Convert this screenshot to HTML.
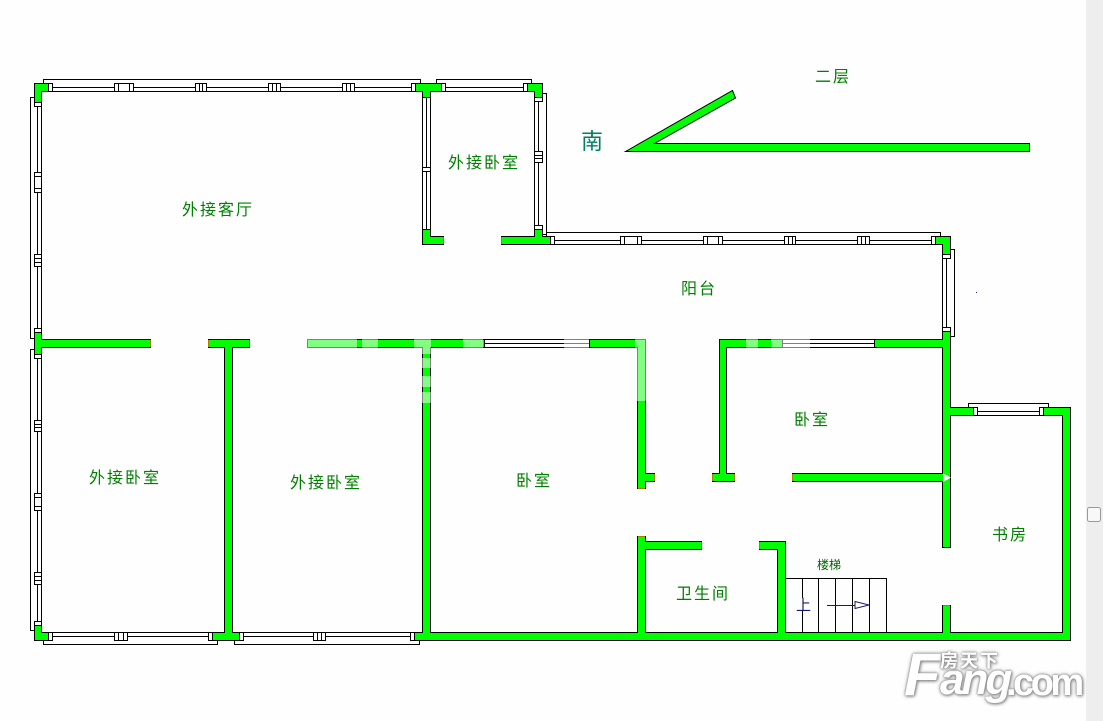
<!DOCTYPE html>
<html><head><meta charset="utf-8">
<style>
html,body{margin:0;padding:0;background:#fefefe;width:1103px;height:721px;overflow:hidden}
svg{position:absolute;left:0;top:0}
.w{fill:#00ff00;stroke:#000;stroke-width:1}
.l{fill:none;stroke:#000;stroke-width:1}
.f{fill:#fff;stroke:#000;stroke-width:1}
.t{font-family:"Liberation Sans","WenQuanYi Zen Hei","Noto Sans CJK SC",sans-serif;font-size:16px;letter-spacing:2px;fill:#008000}
.logo{position:absolute;font-family:"Liberation Sans","Noto Sans CJK SC",sans-serif;font-weight:bold;color:#fff;text-shadow:0 0 2px #888,1px 1px 3px #888,0 0 4px #aaa;white-space:nowrap}
</style></head><body>
<svg width="1103" height="721" viewBox="0 0 1103 721" xmlns="http://www.w3.org/2000/svg">
<g shape-rendering="crispEdges">
<path class="l" d="M48.5 87.5H415.5M48.5 91.5H415.5M43.5 83.5V79.5H420.5V83.5
M441.5 87.5H527.5M441.5 91.5H527.5M436.5 83.5V79.5H531.5V83.5
M550.5 240.5H935.5M550.5 244.5H935.5M546.5 236.5V232.5H940.5V236.5
M37.5 102V328M41.5 102V332M34.5 97.5H30.5V338.5H34.5
M37.5 358V621M41.5 354V625M34.5 349.5H30.5V630.5H34.5
M534.5 97V229M538.5 101V225M542.5 93.5H546.5V234.5H542.5
M422.5 97V229M426.5 97V229M430.5 97V229
M942.5 254V331M946.5 258V327M950.5 249.5H954.5V336.5H950.5
M52.5 632.5H208.5M52.5 636.5H208.5M43.5 640.5V644.5H217.5V640.5
M243.5 632.5H410.5M243.5 636.5H410.5M234.5 640.5V644.5H419.5V640.5
M484.5 339.5H589.5M484.5 343.5H589.5M484.5 347.5H589.5
M782.5 339.5H874.5M782.5 343.5H874.5M782.5 347.5H874.5
M977.5 411.5H1039.5M977.5 415.5H1039.5M968.5 407.5V403.5H1048.5V407.5"/>
<path class="f" d="M48.5 83.5h4v8h-4zM114.5 83.5h19v8h-19zM195.5 83.5h11v8h-11zM268.5 83.5h12v8h-12zM342.5 83.5h12v8h-12zM411.5 83.5h4v8h-4zM441.5 83.5h4v8h-4zM523.5 83.5h4v8h-4z"/>
<path class="l" d="M118.5 83.5v8M129.5 83.5v8M199.5 83.5v8M202.5 83.5v8M272.5 83.5v8M276.5 83.5v8M346.5 83.5v8M350.5 83.5v8"/>
<path class="f" d="M550.5 236.5h4v8h-4zM620.5 236.5h21v8h-21zM703.5 236.5h19v8h-19zM784.5 236.5h11v8h-11zM857.5 236.5h12v8h-12zM931.5 236.5h4v8h-4z"/>
<path class="l" d="M624.5 236.5v8M637.5 236.5v8M707.5 236.5v8M718.5 236.5v8M788.5 236.5v8M792.5 236.5v8M861.5 236.5v8M865.5 236.5v8"/>
<path class="f" d="M34.5 102.5h7v4h-7zM34.5 172.5h7v20h-7zM34.5 254.5h7v12h-7zM34.5 328.5h7v4h-7zM34.5 354.5h7v4h-7zM34.5 420.5h7v11h-7zM34.5 493.5h7v17h-7zM34.5 572.5h7v12h-7zM34.5 621.5h7v4h-7z"/>
<path class="l" d="M34.5 176.5h7M34.5 188.5h7M34.5 258.5h7M34.5 262.5h7M34.5 424.5h7M34.5 427.5h7M34.5 497.5h7M34.5 506.5h7M34.5 576.5h7M34.5 580.5h7"/>
<path class="f" d="M534.5 97.5h8v4h-8zM534.5 151.5h8v11h-8zM534.5 225.5h8v4h-8zM422.5 167.5h8v4h-8zM942.5 254.5h8v4h-8zM942.5 327.5h8v4h-8zM973.5 407.5h4v8h-4zM1039.5 407.5h4v8h-4z"/>
<path class="l" d="M534.5 155.5h8M534.5 158.5h8"/>
<path class="f" d="M48.5 632.5h4v8h-4zM114.5 632.5h13v8h-13zM208.5 632.5h4v8h-4zM239.5 632.5h4v8h-4zM313.5 632.5h12v8h-12zM410.5 632.5h4v8h-4z"/>
<path class="l" d="M118.5 632.5v8M123.5 632.5v8M317.5 632.5v8M321.5 632.5v8"/>
<path class="l" d="M785.5 578.5H886.5V632M802.5 578.5V598M802.5 611V632M818.5 578.5V632M835.5 578.5V632M852.5 578.5V632M869.5 578.5V632"/>
<polygon class="w" points="34.5,83.5 48.5,83.5 48.5,91.5 41.5,91.5 41.5,102.5 34.5,102.5"/>
<polygon class="w" points="415.5,83.5 441.5,83.5 441.5,91.5 430.5,91.5 430.5,97.5 422.5,97.5 422.5,91.5 415.5,91.5"/>
<polygon class="w" points="527.5,83.5 542.5,83.5 542.5,97.5 534.5,97.5 534.5,91.5 527.5,91.5"/>
<polygon class="w" points="422.5,229.5 430.5,229.5 430.5,236.5 443.5,236.5 443.5,244.5 422.5,244.5"/>
<polygon class="w" points="534.5,229.5 542.5,229.5 542.5,236.5 550.5,236.5 550.5,244.5 501.5,244.5 501.5,236.5 534.5,236.5"/>
<polygon class="w" points="935.5,236.5 950.5,236.5 950.5,254.5 942.5,254.5 942.5,244.5 935.5,244.5"/>
<polygon class="w" points="942.5,331.5 950.5,331.5 950.5,407.5 973.5,407.5 973.5,415.5 950.5,415.5 950.5,547.5 942.5,547.5 942.5,481.5 792.5,481.5 792.5,473.5 942.5,473.5 942.5,347.5 874.5,347.5 874.5,339.5 942.5,339.5"/>
<polygon class="w" points="307.5,339.5 484.5,339.5 484.5,347.5 430.5,347.5 430.5,632.5 637.5,632.5 637.5,536.5 645.5,536.5 645.5,541.5 701.5,541.5 701.5,549.5 645.5,549.5 645.5,632.5 777.5,632.5 777.5,549.5 759.5,549.5 759.5,541.5 785.5,541.5 785.5,632.5 942.5,632.5 942.5,605.5 950.5,605.5 950.5,632.5 1062.5,632.5 1062.5,415.5 1043.5,415.5 1043.5,407.5 1070.5,407.5 1070.5,640.5 414.5,640.5 414.5,632.5 422.5,632.5 422.5,347.5 307.5,347.5"/>
<polygon class="w" points="589.5,339.5 645.5,339.5 645.5,473.5 654.5,473.5 654.5,481.5 645.5,481.5 645.5,488.5 637.5,488.5 637.5,347.5 589.5,347.5"/>
<polygon class="w" points="719.5,339.5 782.5,339.5 782.5,347.5 726.5,347.5 726.5,473.5 734.5,473.5 734.5,481.5 712.5,481.5 712.5,473.5 719.5,473.5"/>
<polygon class="w" points="34.5,332.5 41.5,332.5 41.5,339.5 150.5,339.5 150.5,347.5 41.5,347.5 41.5,354.5 34.5,354.5"/>
<polygon class="w" points="208.5,339.5 249.5,339.5 249.5,347.5 232.5,347.5 232.5,632.5 239.5,632.5 239.5,640.5 212.5,640.5 212.5,632.5 224.5,632.5 224.5,347.5 208.5,347.5"/>
<polygon class="w" points="34.5,625.5 41.5,625.5 41.5,632.5 48.5,632.5 48.5,640.5 34.5,640.5"/>
<path fill="none" stroke="#a08000" d="M150.5 340v7M208.5 340v7M249.5 340v7M443.5 237v7M501.5 237v7M654.5 474v7M712.5 474v7M734.5 474v7M792.5 474v7M701.5 542v7M759.5 542v7M638 488.5h7M638 536.5h7M943 605.5h7"/>
<g fill="#fff" fill-opacity=".5">
<rect x="307" y="339" width="50" height="9"/><rect x="362" y="339" width="16" height="9"/><rect x="414" y="339" width="17" height="9"/><rect x="463" y="339" width="20" height="9"/>
<rect x="422" y="348" width="9" height="6"/><rect x="422" y="358" width="9" height="10"/><rect x="422" y="376" width="9" height="11"/><rect x="422" y="392" width="9" height="11"/>
<rect x="635" y="339" width="11" height="9"/><rect x="637" y="348" width="9" height="53"/>
<rect x="746" y="339" width="12" height="9"/><rect x="771" y="339" width="11" height="9"/>
<rect x="782" y="339" width="28" height="9"/><rect x="564" y="339" width="25" height="9"/>
</g>
</g>
<polygon class="w" points="625.5,151.5 732.5,90.5 735.5,98 654.5,143.5 1029.5,143.5 1029.5,151.5"/>
<polygon points="943,473.5 951,477.5 943,482" fill="#fff"/>
<rect x="976" y="292" width="1" height="1" fill="#191970"/>
<g fill="none" stroke="#191970" stroke-width="1" shape-rendering="crispEdges">
<path d="M827 605.5H855"/>
<path d="M855 601.5L869 605L855 608.5Z" fill="#fff" shape-rendering="auto"/>
</g>
<text x="796" y="610" font-family="'WenQuanYi Zen Hei','Noto Sans CJK SC',sans-serif" font-size="15" fill="#191970">上</text>
<text class="t" x="182" y="215">外接客厅</text>
<text class="t" x="448" y="168">外接卧室</text>
<text class="t" x="681" y="294">阳台</text>
<text class="t" x="794" y="425">卧室</text>
<text class="t" x="992" y="540">书房</text>
<text class="t" x="516" y="486">卧室</text>
<text class="t" x="89" y="483">外接卧室</text>
<text class="t" x="290" y="488">外接卧室</text>
<text class="t" x="676" y="599">卫生间</text>
<text class="t" x="815" y="82">二层</text>
<text class="t" x="817" y="569" style="font-size:12px;letter-spacing:0;fill:#006400">楼梯</text>
<text class="t" x="581" y="149" style="font-size:22px;letter-spacing:0;fill:#008060">南</text>
<rect x="1086" y="0" width="17" height="721" fill="#eeeeee"/>
<rect x="1087.5" y="507.5" width="13" height="14" rx="2" fill="#f8f8f8" stroke="#999"/>
</svg>
<div class="logo" style="left:904px;top:640px;font-size:60px;line-height:70px;font-style:italic">F</div>
<div class="logo" style="left:940px;top:650px;font-size:44px;line-height:60px;font-style:italic;letter-spacing:-3px">ang</div>
<div class="logo" style="left:1006px;top:658px;font-size:38px;line-height:50px;letter-spacing:-3.5px">.com</div>
<div class="logo" style="left:940px;top:651px;font-size:18px;letter-spacing:2px;line-height:20px">房天下</div>
</body></html>
